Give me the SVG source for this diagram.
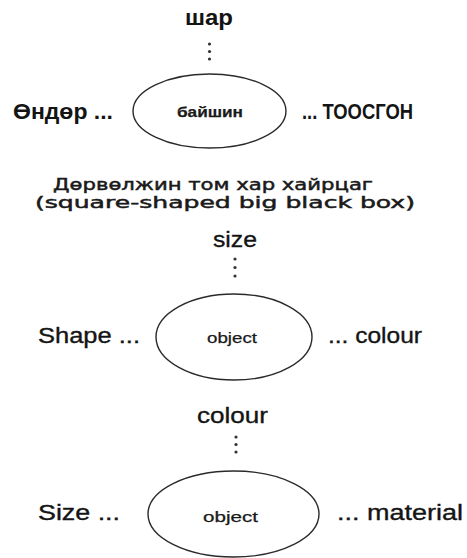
<svg xmlns="http://www.w3.org/2000/svg" width="467" height="558" viewBox="0 0 467 558">
  <style>
    .bg { fill: #ffffff; }
    .node ellipse { fill: #ffffff; stroke: #2a2a2a; stroke-width: 1.4; }
    .lbl { font-family: "Liberation Sans", Arial, sans-serif; font-size: 22px; fill: #141414; stroke: #141414; stroke-width: 0.35; }
    .bold { font-weight: bold; stroke-width: 0; }
    .inner { font-family: "Liberation Sans", Arial, sans-serif; font-size: 14px; fill: #1a1a1a; stroke: #1a1a1a; stroke-width: 0.25; }
    .cap { font-family: "DejaVu Sans", Verdana, sans-serif; font-size: 16.5px; fill: #1a1a1a; stroke: #1a1a1a; stroke-width: 0.5; }
    .dot { fill: #333333; }
  </style>
  <rect class="bg" x="0" y="0" width="467" height="558"/>

  <!-- vertical dotted links from the top attribute to each object -->
  <g id="connectors">
    <circle class="dot" cx="209.5" cy="44" r="1.6"/>
    <circle class="dot" cx="209.5" cy="51.5" r="1.6"/>
    <circle class="dot" cx="209.5" cy="59" r="1.6"/>
    <circle class="dot" cx="235" cy="259" r="1.6"/>
    <circle class="dot" cx="235" cy="267.5" r="1.6"/>
    <circle class="dot" cx="235" cy="276" r="1.6"/>
    <circle class="dot" cx="236" cy="437" r="1.6"/>
    <circle class="dot" cx="236" cy="444.5" r="1.6"/>
    <circle class="dot" cx="236" cy="452" r="1.6"/>
  </g>

  <!-- Mongolian example -->
  <g id="mn-top"><text class="lbl bold" x="185" y="25" textLength="48" lengthAdjust="spacingAndGlyphs">шар</text></g>
  <g id="mn-object" class="node">
    <ellipse cx="209.5" cy="111" rx="76.5" ry="37"/>
    <text class="inner" x="177" y="117" textLength="66" lengthAdjust="spacingAndGlyphs" font-weight="bold">байшин</text>
  </g>
  <g id="mn-left"><text class="lbl bold" x="13" y="119" textLength="100" lengthAdjust="spacingAndGlyphs">Өндөр ...</text></g>
  <g id="mn-right"><text class="lbl bold" x="302" y="119" textLength="111" lengthAdjust="spacingAndGlyphs">... ТООСГОН</text></g>

  <g id="caption">
    <text class="cap" x="53" y="190" textLength="320" lengthAdjust="spacingAndGlyphs">Дөрвөлжин том хар хайрцаг</text>
    <text class="cap" x="35" y="208" textLength="380" lengthAdjust="spacingAndGlyphs">(square-shaped big black box)</text>
  </g>

  <!-- English example 1 -->
  <g id="en1-top"><text class="lbl" x="213" y="247" textLength="44" lengthAdjust="spacingAndGlyphs">size</text></g>
  <g id="en1-object" class="node">
    <ellipse cx="234" cy="337" rx="78" ry="43"/>
    <text class="inner" x="207" y="343" textLength="50" lengthAdjust="spacingAndGlyphs">object</text>
  </g>
  <g id="en1-left"><text class="lbl" x="38" y="343" textLength="102" lengthAdjust="spacingAndGlyphs">Shape ...</text></g>
  <g id="en1-right"><text class="lbl" x="328" y="343" textLength="94" lengthAdjust="spacingAndGlyphs">... colour</text></g>

  <!-- English example 2 -->
  <g id="en2-top"><text class="lbl" x="197" y="423" textLength="71" lengthAdjust="spacingAndGlyphs">colour</text></g>
  <g id="en2-object" class="node">
    <ellipse cx="233.5" cy="514" rx="85.5" ry="43"/>
    <text class="inner" x="203" y="522" textLength="55" lengthAdjust="spacingAndGlyphs">object</text>
  </g>
  <g id="en2-left"><text class="lbl" x="38" y="520" textLength="82" lengthAdjust="spacingAndGlyphs">Size ...</text></g>
  <g id="en2-right"><text class="lbl" x="337" y="520" textLength="126" lengthAdjust="spacingAndGlyphs">... material</text></g>
</svg>
